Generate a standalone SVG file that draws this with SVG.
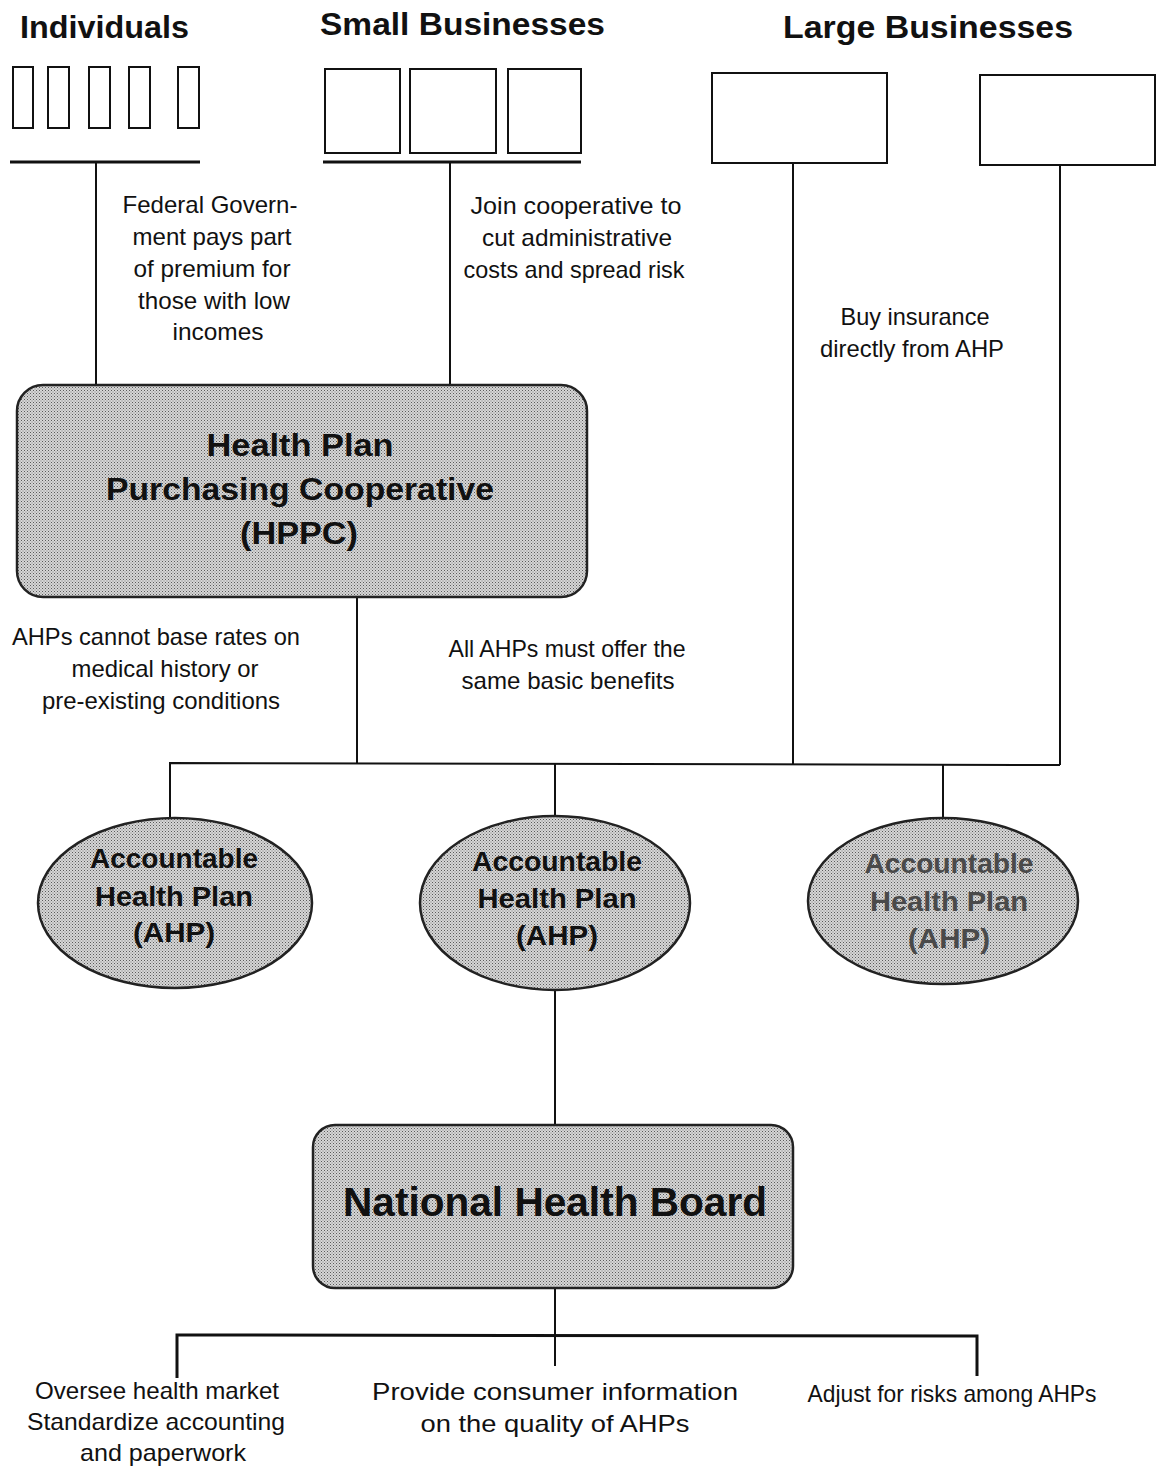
<svg xmlns="http://www.w3.org/2000/svg" width="1157" height="1467" viewBox="0 0 1157 1467">
<defs>
<pattern id="ht" width="3" height="3" patternUnits="userSpaceOnUse">
<rect width="3" height="3" fill="#d6d6d6"/>
<rect x="0" y="0" width="1" height="1" fill="#5a5a5a"/>
<rect x="1.5" y="1.5" width="1" height="1" fill="#7a7a7a"/>
</pattern>
</defs>
<style>
.head{font-family:"Liberation Sans",Arial,sans-serif;font-weight:bold;font-size:32px;fill:#111}
.node{font-family:"Liberation Sans",Arial,sans-serif;font-weight:bold;fill:#111;text-anchor:middle}
.node.grey{fill:#4a4a4a}
.lbl{font-family:"Liberation Sans",Arial,sans-serif;font-size:24px;fill:#111;text-anchor:middle}
.box{fill:#fff;stroke:#111;stroke-width:2}
.shade{fill:url(#ht);stroke:#222;stroke-width:2.5}
.conn line,.conn polyline{stroke:#111;stroke-width:2;fill:none}
.conn .thick{stroke-width:3}
</style>
<rect width="1157" height="1467" fill="#fff"/>

<g id="headings">
<text class="head" x="20" y="38" textLength="169" lengthAdjust="spacingAndGlyphs">Individuals</text>
<text class="head" x="320" y="35" textLength="285" lengthAdjust="spacingAndGlyphs">Small Businesses</text>
<text class="head" x="783" y="38" textLength="290" lengthAdjust="spacingAndGlyphs">Large Businesses</text>
</g>

<g id="individuals">
<rect class="box" x="13" y="67" width="20" height="61"/>
<rect class="box" x="48" y="67" width="21" height="61"/>
<rect class="box" x="89" y="67" width="21" height="61"/>
<rect class="box" x="129" y="67" width="21" height="61"/>
<rect class="box" x="178" y="67" width="21" height="61"/>
</g>

<g id="small-businesses">
<rect class="box" x="325" y="69" width="75" height="84"/>
<rect class="box" x="410" y="69" width="86" height="84"/>
<rect class="box" x="508" y="69" width="73" height="84"/>
</g>

<g id="large-business-1">
<rect class="box" x="712" y="73" width="175" height="90"/>
</g>
<g id="large-business-2">
<rect class="box" x="980" y="75" width="175" height="90"/>
</g>

<g id="connectors" class="conn">
<line class="thick" x1="10" y1="162" x2="200" y2="162"/>
<line x1="96" y1="162" x2="96" y2="385"/>
<line class="thick" x1="323" y1="162" x2="581" y2="162"/>
<line x1="450" y1="162" x2="450" y2="385"/>
<line x1="793" y1="163" x2="793" y2="765"/>
<line x1="1060" y1="165" x2="1060" y2="765"/>
<line x1="357" y1="597" x2="357" y2="763"/>
<polyline points="170,840 170,763 1060,765"/>
<line x1="555" y1="763" x2="555" y2="818"/>
<line x1="943" y1="764" x2="943" y2="820"/>
<line x1="555" y1="990" x2="555" y2="1125"/>
<line x1="555" y1="1288" x2="555" y2="1366"/>
<polyline class="thick" points="177,1378 177,1335 977,1336 977,1376"/>
</g>

<g id="hppc">
<rect class="shade" x="17" y="385" width="570" height="212" rx="26"/>
<text class="node" font-size="32" x="300" y="456" textLength="187" lengthAdjust="spacingAndGlyphs">Health Plan</text>
<text class="node" font-size="32" x="300" y="500" textLength="388" lengthAdjust="spacingAndGlyphs">Purchasing Cooperative</text>
<text class="node" font-size="32" x="299" y="544" textLength="118" lengthAdjust="spacingAndGlyphs">(HPPC)</text>
</g>

<g id="ahp-1">
<ellipse class="shade" cx="175" cy="903" rx="137" ry="85"/>
<text class="node" font-size="28" x="174" y="868" textLength="168" lengthAdjust="spacingAndGlyphs">Accountable</text>
<text class="node" font-size="28" x="174" y="906" textLength="158" lengthAdjust="spacingAndGlyphs">Health Plan</text>
<text class="node" font-size="28" x="174" y="942" textLength="82" lengthAdjust="spacingAndGlyphs">(AHP)</text>
</g>

<g id="ahp-2">
<ellipse class="shade" cx="555" cy="903" rx="135" ry="87"/>
<text class="node" font-size="28" x="557" y="871" textLength="170" lengthAdjust="spacingAndGlyphs">Accountable</text>
<text class="node" font-size="28" x="557" y="908" textLength="159" lengthAdjust="spacingAndGlyphs">Health Plan</text>
<text class="node" font-size="28" x="557" y="945" textLength="82" lengthAdjust="spacingAndGlyphs">(AHP)</text>
</g>

<g id="ahp-3">
<ellipse class="shade" cx="943" cy="901" rx="135" ry="83"/>
<text class="node grey" font-size="28" x="949" y="873" textLength="169" lengthAdjust="spacingAndGlyphs">Accountable</text>
<text class="node grey" font-size="28" x="949" y="911" textLength="158" lengthAdjust="spacingAndGlyphs">Health Plan</text>
<text class="node grey" font-size="28" x="949" y="948" textLength="82" lengthAdjust="spacingAndGlyphs">(AHP)</text>
</g>

<g id="nhb">
<rect class="shade" x="313" y="1125" width="480" height="163" rx="22"/>
<text class="node" font-size="40" x="555" y="1216" textLength="424" lengthAdjust="spacingAndGlyphs">National Health Board</text>
</g>

<g id="labels">
<text class="lbl" x="210" y="213" textLength="175" lengthAdjust="spacingAndGlyphs">Federal Govern-</text>
<text class="lbl" x="212" y="245" textLength="159" lengthAdjust="spacingAndGlyphs">ment pays part</text>
<text class="lbl" x="212" y="277" textLength="157" lengthAdjust="spacingAndGlyphs">of premium for</text>
<text class="lbl" x="214" y="309" textLength="152" lengthAdjust="spacingAndGlyphs">those with low</text>
<text class="lbl" x="218" y="340" textLength="91" lengthAdjust="spacingAndGlyphs">incomes</text>

<text class="lbl" x="576" y="214" textLength="211" lengthAdjust="spacingAndGlyphs">Join cooperative to</text>
<text class="lbl" x="577" y="246" textLength="190" lengthAdjust="spacingAndGlyphs">cut administrative</text>
<text class="lbl" x="574" y="278" textLength="221" lengthAdjust="spacingAndGlyphs">costs and spread risk</text>

<text class="lbl" x="915" y="325" textLength="149" lengthAdjust="spacingAndGlyphs">Buy insurance</text>
<text class="lbl" x="912" y="357" textLength="184" lengthAdjust="spacingAndGlyphs">directly from AHP</text>

<text class="lbl" x="156" y="645" textLength="288" lengthAdjust="spacingAndGlyphs">AHPs cannot base rates on</text>
<text class="lbl" x="165" y="677" textLength="187" lengthAdjust="spacingAndGlyphs">medical history or</text>
<text class="lbl" x="161" y="709" textLength="238" lengthAdjust="spacingAndGlyphs">pre-existing conditions</text>

<text class="lbl" x="567" y="657" textLength="237" lengthAdjust="spacingAndGlyphs">All AHPs must offer the</text>
<text class="lbl" x="568" y="689" textLength="213" lengthAdjust="spacingAndGlyphs">same basic benefits</text>

<text class="lbl" x="157" y="1399" textLength="244" lengthAdjust="spacingAndGlyphs">Oversee health market</text>
<text class="lbl" x="156" y="1430" textLength="258" lengthAdjust="spacingAndGlyphs">Standardize accounting</text>
<text class="lbl" x="163" y="1461" textLength="166" lengthAdjust="spacingAndGlyphs">and paperwork</text>

<text class="lbl" x="555" y="1400" textLength="366" lengthAdjust="spacingAndGlyphs">Provide consumer information</text>
<text class="lbl" x="555" y="1432" textLength="269" lengthAdjust="spacingAndGlyphs">on the quality of AHPs</text>

<text class="lbl" x="952" y="1402" textLength="289" lengthAdjust="spacingAndGlyphs">Adjust for risks among AHPs</text>
</g>
</svg>
